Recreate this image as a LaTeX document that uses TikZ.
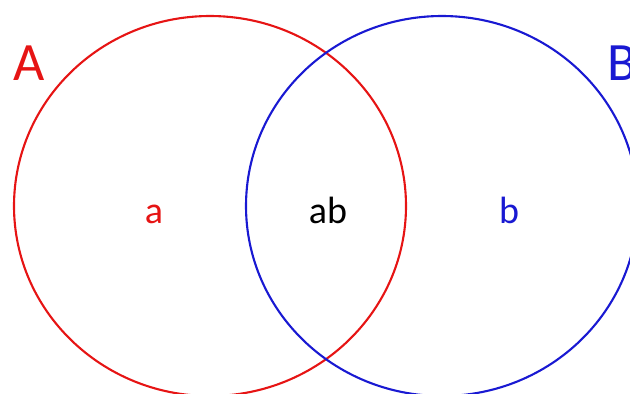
\documentclass[tikz,border=0pt]{standalone}
\usepackage{fontspec}
\setmainfont{Carlito}
\definecolor{setred}{RGB}{230,20,20}
\definecolor{setblue}{RGB}{25,25,210}
\begin{document}
\begin{tikzpicture}[
			x=1pt, y=-1pt,
			set line/.style={line width=2.1pt},
			set name/.style={font=\fontsize{54}{54}\selectfont, anchor=base, inner sep=0pt},
			region label/.style={font=\fontsize{38}{38}\selectfont, anchor=base, inner sep=0pt}
			]
			\useasboundingbox (0,0) rectangle (630,394);
			% the two sets
			\coordinate (CA) at (210,206);
			\coordinate (CB) at (442,206);
			\draw[set line, setred] (CA) ellipse [x radius=196, y radius=190];
			\draw[set line, setblue] (CB) ellipse [x radius=196, y radius=190];
			
			\node[set name, text=setred] (nameA) at (29,80) {A};
			\node[set name, text=setblue] (nameB) at (622,80) {B};
			
			\node[region label, text=setred] (onlyA) at (154,223) {a};
			\node[region label] (both) at (328,223) {ab};
			\node[region label, text=setblue] (onlyB) at (509,223) {b};
		\end{tikzpicture}
\end{document}
